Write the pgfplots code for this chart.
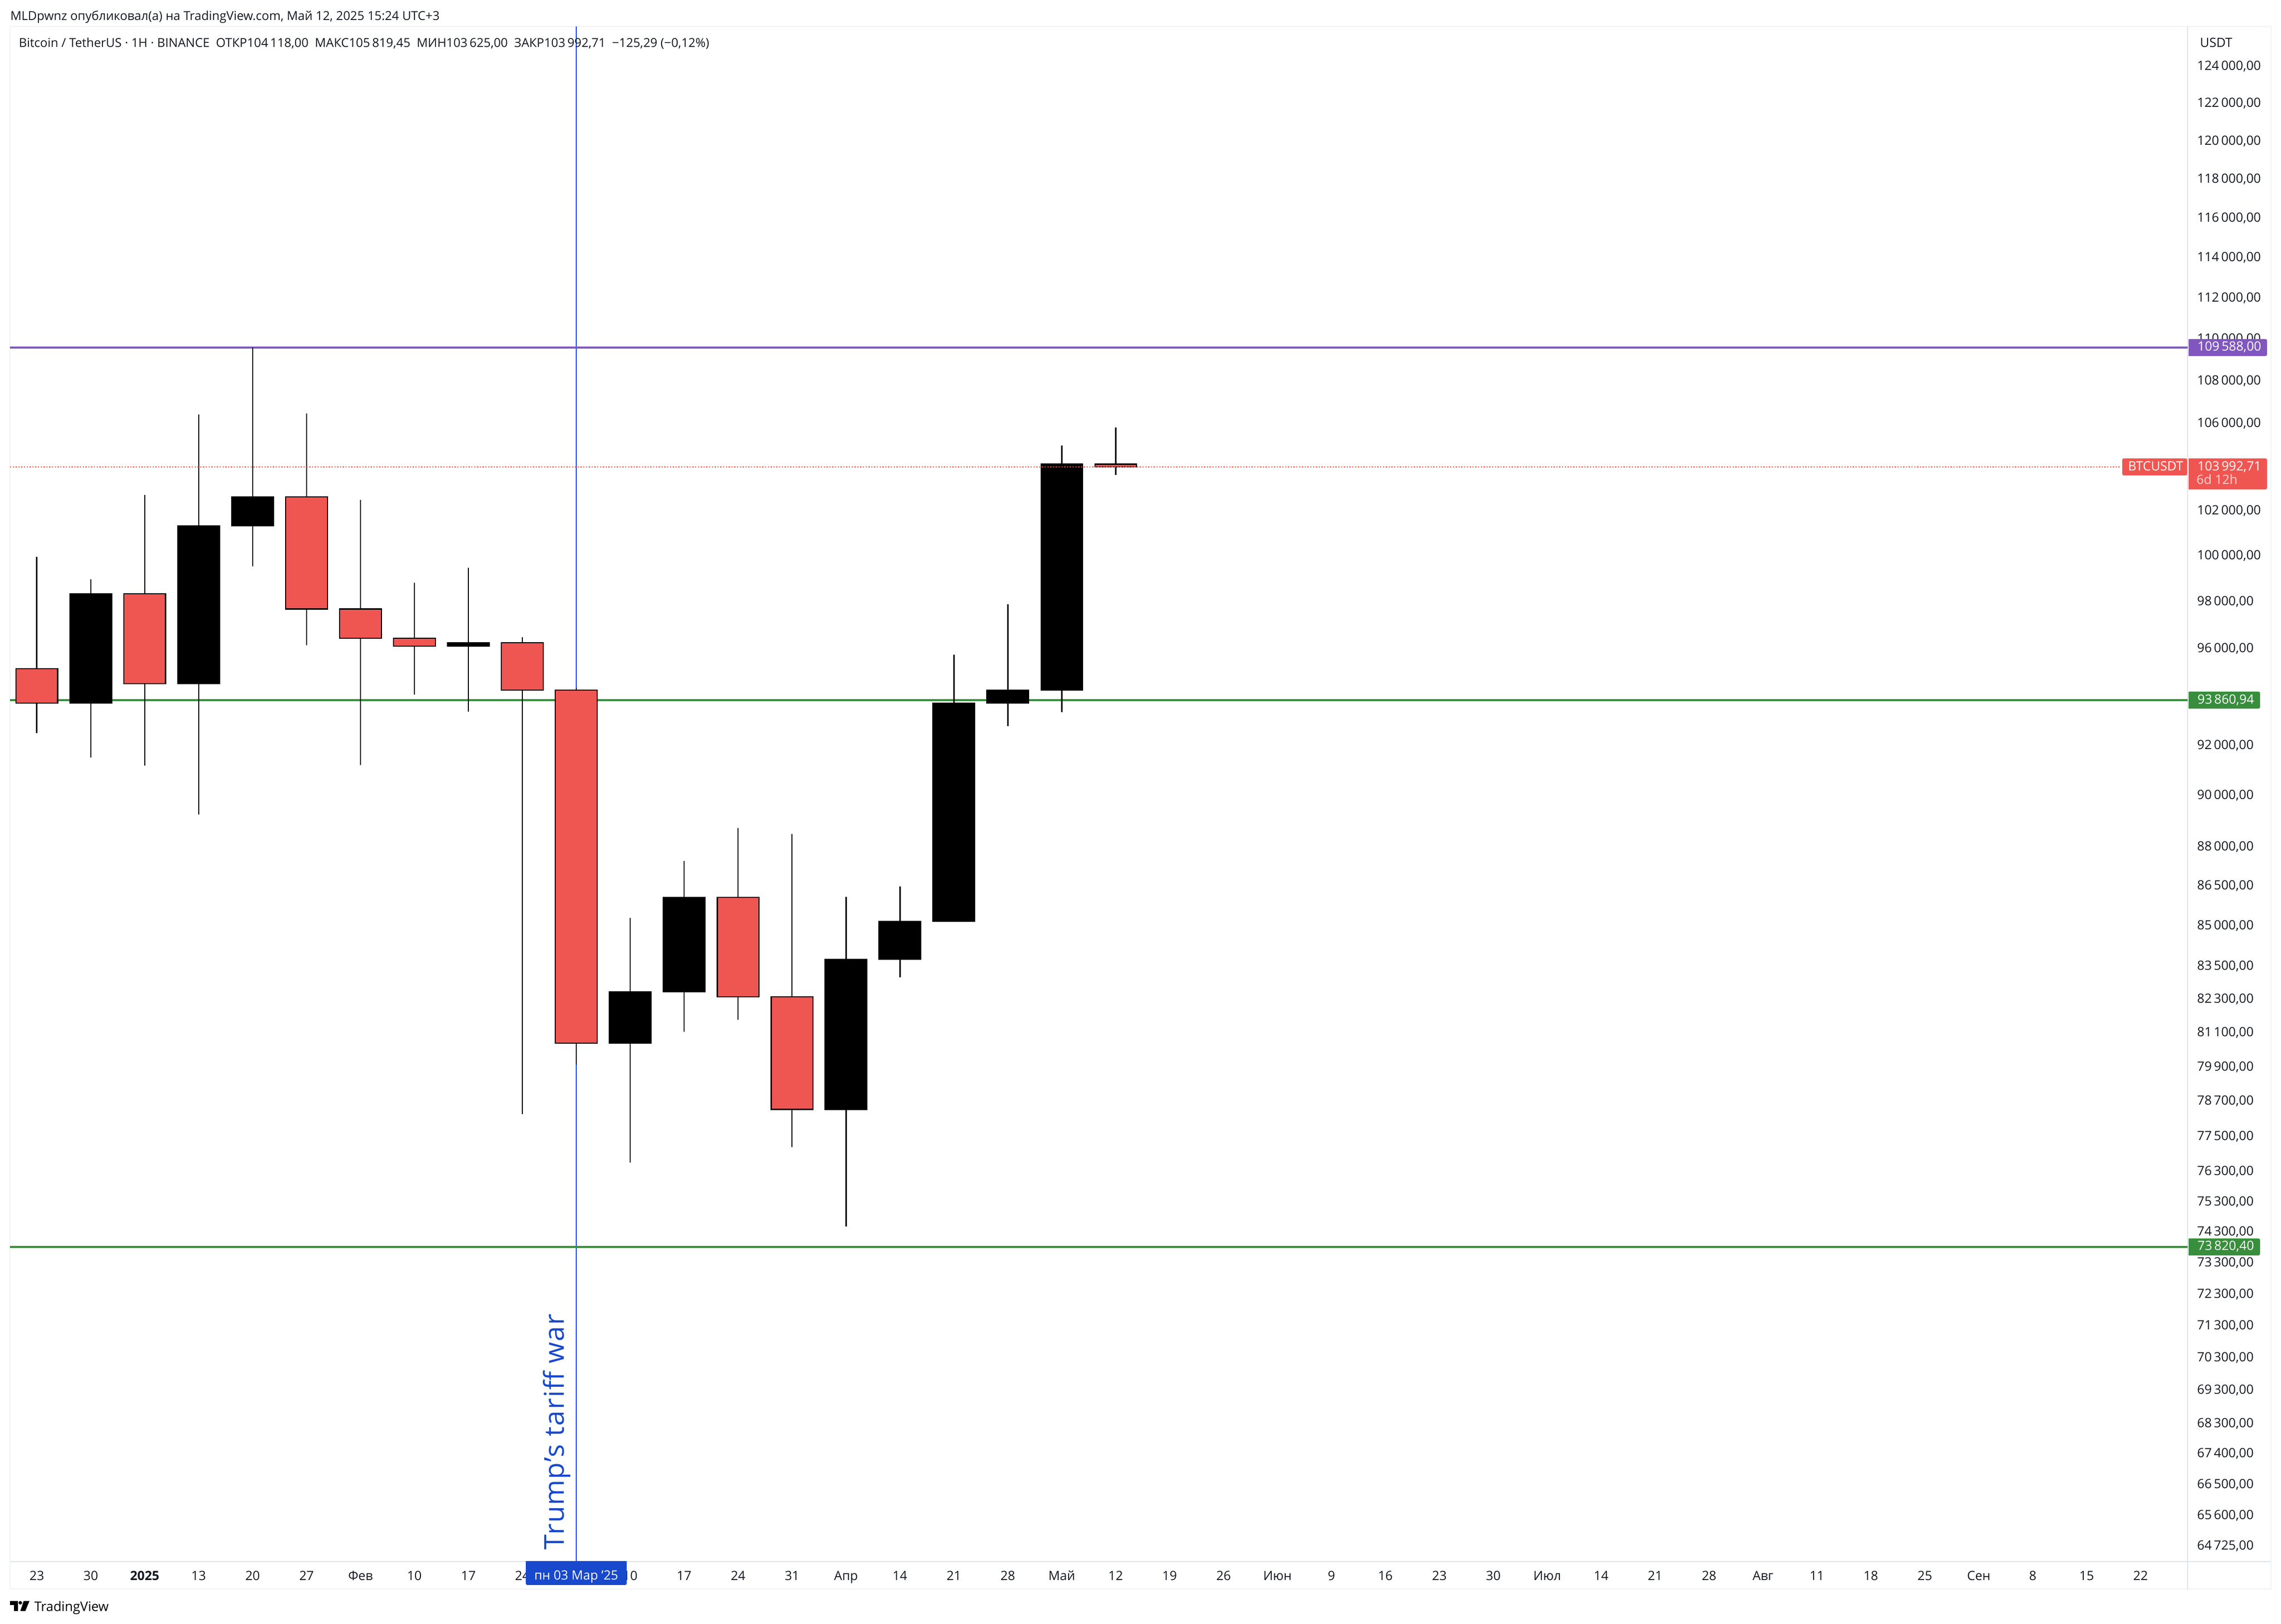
\documentclass[border=0pt]{standalone}
\usepackage{fontspec}
\setmainfont{Open Sans}
\usepackage{pgfplots}
\pgfplotsset{compat=1.18}
\definecolor{cred}{HTML}{F05651}
\definecolor{cblue}{HTML}{1848CC}
\definecolor{cpurple}{HTML}{8157BF}
\definecolor{cgreen}{HTML}{388E3C}
\definecolor{ctext}{HTML}{131722}
\definecolor{cframe}{HTML}{F0F3FA}
\definecolor{cgrid}{HTML}{E0E3EB}
\newcommand{\tvfont}{\fontsize{6.4pt}{7.5pt}\selectfont}
% x, open, high, low, close, fill
\newcommand{\candle}[6]{%
  \pgfmathsetmacro\cxl{#1-0.386}\pgfmathsetmacro\cxr{#1+0.386}%
  \addplot[black,line width=0.65pt] coordinates {(#1,#3)(#1,#4)};
  \addplot[fill=#6,draw=black,line width=0.55pt] coordinates {(\cxl,#2)(\cxr,#2)(\cxr,#5)(\cxl,#5)} --cycle;
}
\newcommand{\pricetag}[5]{%
  \fill[#5,rounded corners=0.8pt] (#1,#2) rectangle (#3,#4);
  \fill[#5] (#1,#2) rectangle (#1+8,#4);
}
\begin{document}
\begin{tikzpicture}
\useasboundingbox (0,0) rectangle (1142pt,813pt);
\begin{scope}[x=0.25pt,y=-0.25pt,shift={(0pt,813pt)}]
  \draw[cframe,line width=0.5pt] (20,53) rectangle (4548,3182);
  \draw[cgrid,line width=0.5pt] (4381,53) -- (4381,3182);
  \draw[cgrid,line width=0.5pt] (20,3127) -- (4548,3127);
\end{scope}
\begin{axis}[
  at={(5pt,31.05pt)},anchor=south west,
  scale only axis,width=1090.25pt,height=768.5pt,
  ymode=log,ymin=64281,ymax=126195,
  xmin=-0.498,xmax=39.871,
  axis line style={draw=none},
  major tick length=0pt,minor tick length=0pt,
  ytick pos=right,yticklabel pos=right,
  log ticks with fixed point,
  xtick={0,...,39},
  xticklabels={23,30,\textbf{2025},13,20,27,Фев,10,17,24,{},10,17,24,31,Апр,14,21,28,Май,12,19,26,Июн,9,16,23,30,Июл,14,21,28,Авг,11,18,25,Сен,8,15,22},
  ytick={124000,122000,120000,118000,116000,114000,112000,110000,108000,106000,102000,100000,98000,96000,92000,90000,88000,86500,85000,83500,82300,81100,79900,78700,77500,76300,75300,74300,73300,72300,71300,70300,69300,68300,67400,66500,65600,64725},
  yticklabels={{124\,000,00},{122\,000,00},{120\,000,00},{118\,000,00},{116\,000,00},{114\,000,00},{112\,000,00},{110\,000,00},{108\,000,00},{106\,000,00},{102\,000,00},{100\,000,00},{98\,000,00},{96\,000,00},{92\,000,00},{90\,000,00},{88\,000,00},{86\,500,00},{85\,000,00},{83\,500,00},{82\,300,00},{81\,100,00},{79\,900,00},{78\,700,00},{77\,500,00},{76\,300,00},{75\,300,00},{74\,300,00},{73\,300,00},{72\,300,00},{71\,300,00},{70\,300,00},{69\,300,00},{68\,300,00},{67\,400,00},{66\,500,00},{65\,600,00},{64\,725,00}},
  yticklabel style={anchor=west,inner sep=0pt,xshift=4.6pt,font=\tvfont,text=ctext},
  xticklabel style={anchor=base,inner sep=0pt,yshift=-9.25pt,font=\tvfont,text=ctext},
]
% vertical marker and horizontal levels
\addplot[cblue,line width=0.5pt] coordinates {(10,64281)(10,126195)};
\addplot[cpurple,line width=1pt] coordinates {(-0.498,109588)(39.871,109588)};
\addplot[cgreen,line width=1pt] coordinates {(-0.498,93860.94)(39.871,93860.94)};
\addplot[cgreen,line width=1pt] coordinates {(-0.498,73820.40)(39.871,73820.40)};
% weekly candles: x open high low close
\candle{0}{95171}{99964}{92507}{93731}{cred}
\candle{1}{93731}{98974}{91528}{98341}{black}
\candle{2}{98341}{102715}{91194}{94534}{cred}
\candle{3}{94534}{106418}{89262}{101330}{black}
\candle{4}{101330}{109588}{99544}{102629}{black}
\candle{5}{102629}{106462}{96153}{97696}{cred}
\candle{6}{97696}{102498}{91220}{96444}{cred}
\candle{7}{96444}{98822}{94087}{96111}{cred}
\candle{8}{96111}{99476}{93390}{96259}{black}
\candle{9}{96259}{96485}{78242}{94271}{cred}
\candle{10}{94271}{94376}{79985}{80716}{cred}
\candle{11}{80716}{85288}{76616}{82571}{black}
\candle{12}{82571}{87449}{81128}{86067}{black}
\candle{13}{86067}{88742}{81566}{82383}{cred}
\candle{14}{82383}{88497}{77142}{78419}{cred}
\candle{15}{78419}{86085}{74489}{83751}{black}
\candle{16}{83751}{86477}{83097}{85168}{black}
\candle{17}{85168}{95757}{85168}{93741}{black}
\candle{18}{93741}{97899}{92802}{94267}{black}
\candle{19}{94267}{104979}{93361}{104118}{black}
\candle{20}{104118}{105819.45}{103625}{103992.71}{cred}
% last price line
\addplot[cred,line width=0.6pt,dash pattern=on 0.6pt off 0.8pt] coordinates {(-0.498,103992.71)(38.63,103992.71)};
\end{axis}
\begin{scope}[x=0.25pt,y=-0.25pt,shift={(0pt,813pt)},every node/.style={inner sep=0pt,font=\tvfont}]
  \node[anchor=base west,text=ctext,font=\fontsize{6.17pt}{7pt}\selectfont] at (20,41) {MLDpwnz опубликовал(а) на TradingView.com, Май 12, 2025 15:24 UTC+3};
  \node[anchor=base west,text=ctext,font=\fontsize{6.17pt}{7pt}\selectfont] at (37,95) {Bitcoin / TetherUS · 1H · BINANCE\ \ ОТКР104\,118,00\ \ МАКС105\,819,45\ \ МИН103\,625,00\ \ ЗАКР103\,992,71\ \ −125,29 (−0,12\%)};
  \node[anchor=base west,text=ctext] at (4405,95) {USDT};
  % price tags
  \pricetag{4383}{679}{4540}{713}{cpurple}
  \node[anchor=base west,text=white] at (4400,703) {109\,588,00};
  \pricetag{4383}{918}{4540}{980}{cred}
  \node[anchor=base west,text=white] at (4400,942.7) {103\,992,71};
  \node[anchor=base west,text=white!75!cred] at (4398,970) {6d 12h};
  \fill[cred,rounded corners=0.8pt] (4250,918) rectangle (4380,952);
  \node[anchor=base west,text=white] at (4261,942.7) {BTCUSDT};
  \pricetag{4383}{1385}{4526}{1419}{cgreen}
  \node[anchor=base west,text=white] at (4400,1410) {93\,860,94};
  \pricetag{4383}{2480}{4526}{2514}{cgreen}
  \node[anchor=base west,text=white] at (4400,2503.5) {73\,820,40};
  % date tag
  \fill[cblue,rounded corners=0.8pt] (1053,3126) rectangle (1255,3174);
  \fill[cblue] (1053,3126) rectangle (1255,3140);
  \node[anchor=base,text=white] at (1154,3164) {пн 03 Мар \symbol{39}25};
  % annotation
  \node[rotate=90,anchor=base west,text=cblue,font=\fontsize{13.7pt}{15pt}\selectfont\addfontfeature{LetterSpace=3.0}] at (1129,3104) {Trump\symbol{39}s tariff war};
  % footer
  \fill[black] (20,3206) -- (36,3206) -- (36,3226) -- (28,3226) -- (28,3214) -- (20,3214) -- cycle;
  \fill[black] (40.7,3209.5) circle [radius=3.5];
  \fill[black] (47.5,3206) -- (59,3206) -- (50.7,3226) -- (40.7,3226) -- cycle;
  \node[anchor=base west,text=black,font=\fontsize{6.6pt}{8pt}\selectfont] at (68,3226.5) {TradingView};
\end{scope}
\end{tikzpicture}
\end{document}
